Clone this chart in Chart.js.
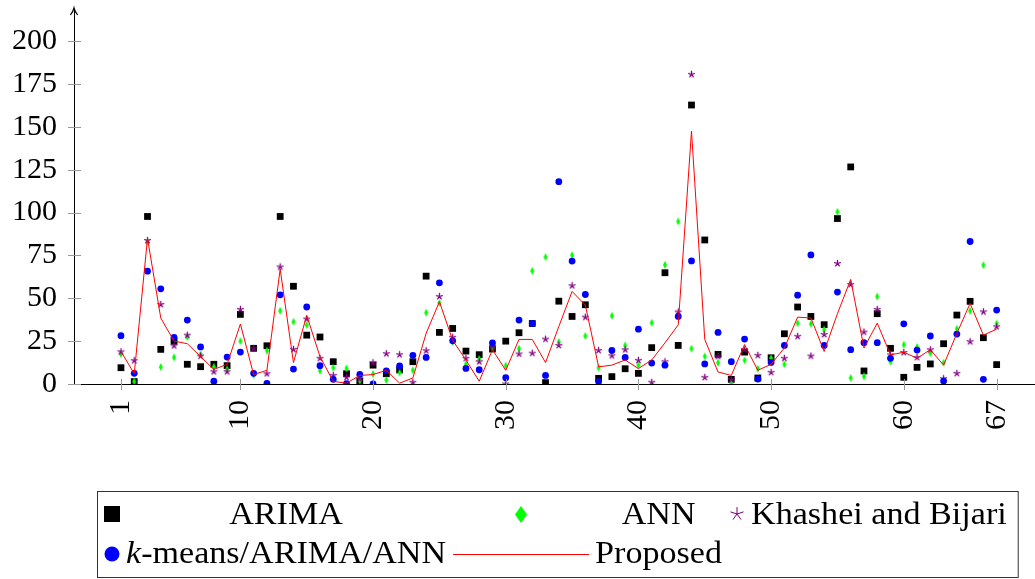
<!DOCTYPE html>
<html>
<head>
<meta charset="utf-8">
<script src="https://cdn.jsdelivr.net/npm/chart.js@4.4.1/dist/chart.umd.min.js"></script>
<style>
    html, body { margin: 0; padding: 0; background: #fff; }
    #wrap { width: 1035px; height: 579px; position: relative; }
</style>
</head>
<body>
<div id="wrap"><canvas id="forecastChart"></canvas></div>
<script>
// Forecast values per test point (1..67) for each model
const arimaForecast = [9.5, 1.4, 97.7, 20.2, 24.9, 11.5, 10.1, 11.5, 10.7, 40.6, 20.8, 22.3, 97.7, 57, 28.5, 27.4, 13, 6, 1.6, 11, 6, 8.2, 13, 62.9, 30.1, 32.4, 19.2, 17.1, 20.4, 25, 29.9, 35.3, 0.8, 48.3, 39.4, 46.2, 3.3, 4.3, 8.9, 6.2, 21.2, 64.9, 22.5, 162.7, 84, 17.3, 2.7, 18.6, 3.5, 15.3, 29.3, 44.9, 39.4, 34.6, 96.5, 126.6, 7.6, 41, 20.8, 3.9, 9.7, 11.7, 23.5, 40.2, 48.2, 27, 11.3];
const annForecast = [17.5, 1.4, 82.7, 9.9, 15.5, 27.4, 17.3, 10, 8.5, 25, 5.2, 19.4, 42.7, 36.3, 34.4, 7.8, 9.5, 9.1, 1.9, 5.8, 2.3, 6.6, 8, 41.6, 47.2, 24.5, 11.5, 14.6, 21.4, 10.7, 20.6, 66, 74, 24.5, 75.1, 28, 9.5, 39.8, 22.5, 10.9, 35.7, 69.5, 94.8, 20.6, 16.1, 12.4, 0.6, 13.8, 8.9, 15, 11.5, 35.5, 35.1, 31.7, 100.4, 3.5, 4.5, 51, 13, 22.9, 21.6, 18, 12.4, 32.2, 42.7, 69.3, 35.3];
const khasheiBijariForecast = [18.8, 13.6, 83.7, 46.4, 22.3, 28.5, 16.3, 7.2, 7.2, 43.5, 20.8, 6, 68.3, 20.2, 37.9, 15, 5, 3.9, 3, 12.4, 17.7, 17.1, 1, 19.4, 51, 27.2, 15, 13, 21.7, 0, 17.5, 18, 26.2, 22.5, 57.3, 39, 19.6, 16.5, 20, 13.8, 1, 13, 42, 180.6, 3.9, 16.1, 2.5, 20, 16.7, 6.8, 15, 27.8, 16.3, 28.9, 70.3, 58, 30.3, 43.5, 17, 18.4, 15.5, 20, 3.1, 6.2, 24.7, 42.1, 33.4];
const kMeansHybridForecast = [28.2, 6.2, 65.8, 55.5, 27.2, 37.3, 21.6, 1.6, 15.7, 18.6, 6.2, 0.4, 52, 8.7, 44.9, 10.7, 2.7, 0.2, 5.6, 0, 7.6, 10.5, 16.7, 15.5, 59, 25.2, 9.1, 8.3, 23.9, 3.7, 37.3, 35.3, 5, 118, 71.7, 52.2, 1.4, 19.6, 15.5, 32, 12.2, 11, 39.4, 71.8, 11.7, 30.1, 13, 26.2, 2.9, 12.6, 22.5, 51.8, 75.3, 22.5, 53.6, 20, 24.1, 24.1, 15, 35.1, 19.8, 28, 1.7, 29.1, 83.1, 2.7, 43.1];
const proposedForecast = [19, 6, 85, 38.5, 25, 23.5, 16, 8.5, 11.5, 35, 5.5, 8, 67, 12.5, 40, 16, 1.5, 0.5, 5, 5.5, 8, 0.5, 3.5, 29.5, 48, 25.5, 14, 1.6, 20, 8, 26, 26, 12.5, 33.5, 54, 46, 10, 11, 14, 9, 14, 24, 34.5, 147.5, 26, 7, 5, 23, 8, 11.5, 21, 39, 38.5, 19, 41, 61, 21, 35.5, 17, 18.5, 15, 20, 11, 29.5, 47, 28.5, 32];

const xTickValues = [1, 10, 20, 30, 40, 50, 60, 67];
const yTickValues = [0, 25, 50, 75, 100, 125, 150, 175, 200];

const SERIF = "'Liberation Serif', 'Times New Roman', serif";
const TEXT_STRETCH = 1.1;

function toPoints(values) {
    return values.map((v, i) => ({ x: i + 1, y: v }));
}

// tall narrow diamond like the pgfplots diamond* mark
function diamondMark(w, h, color) {
    const c = document.createElement('canvas');
    c.width = w + 2;
    c.height = h + 2;
    const g = c.getContext('2d');
    g.fillStyle = color;
    g.beginPath();
    g.moveTo(c.width / 2, 1);
    g.lineTo(c.width - 1, c.height / 2);
    g.lineTo(c.width / 2, c.height - 1);
    g.lineTo(1, c.height / 2);
    g.closePath();
    g.fill();
    return c;
}

// five-armed asterisk
function starMark(r, color, lw) {
    const size = Math.ceil(r * 2 + 3);
    const c = document.createElement('canvas');
    c.width = size;
    c.height = size;
    const g = c.getContext('2d');
    g.strokeStyle = color;
    g.lineWidth = lw;
    g.lineCap = 'round';
    g.beginPath();
    for (let k = 0; k < 5; k++) {
        const a = -Math.PI / 2 + k * 2 * Math.PI / 5;
        g.moveTo(size / 2, size / 2);
        g.lineTo(size / 2 + r * Math.cos(a), size / 2 + r * Math.sin(a));
    }
    g.stroke();
    return c;
}

const GREEN = '#00ff00';
const PURPLE = '#800080';

const datasets = [
    {
        label: 'ARIMA',
        data: toPoints(arimaForecast),
        pointStyle: 'rect',
        pointRadius: 4.8,
        backgroundColor: '#000',
        borderColor: '#000',
        borderWidth: 0,
        order: 5,
        legendMark: { kind: 'rect', size: 16 }
    },
    {
        label: 'ANN',
        data: toPoints(annForecast),
        pointStyle: diamondMark(4, 8, GREEN),
        backgroundColor: GREEN,
        borderColor: GREEN,
        order: 4,
        legendMark: { kind: 'image', image: diamondMark(12, 17, GREEN) }
    },
    {
        label: 'Khashei and Bijari',
        data: toPoints(khasheiBijariForecast),
        pointStyle: starMark(3, PURPLE, 1.3),
        backgroundColor: PURPLE,
        borderColor: PURPLE,
        order: 3,
        legendMark: { kind: 'image', image: starMark(6.5, PURPLE, 1) }
    },
    {
        label: 'k-means/ARIMA/ANN',
        italicPrefix: 'k',
        data: toPoints(kMeansHybridForecast),
        pointStyle: 'circle',
        pointRadius: 3.4,
        backgroundColor: '#0000ff',
        borderColor: '#0000ff',
        borderWidth: 0,
        order: 2,
        legendMark: { kind: 'circle', size: 15 }
    },
    {
        label: 'Proposed',
        data: toPoints(proposedForecast),
        showLine: true,
        tension: 0,
        borderColor: '#ff0000',
        borderWidth: 1,
        pointRadius: 0,
        order: 1,
        legendMark: { kind: 'line', width: 136 }
    }
];

// tick marks crossing the axes and the arrow tip on the y axis
const axisDecor = {
    id: 'axisDecor',
    afterDraw(chart) {
        const { ctx, chartArea, scales } = chart;
        ctx.save();
        ctx.strokeStyle = '#999';
        ctx.lineWidth = 1;
        ctx.beginPath();
        xTickValues.forEach(v => {
            const px = Math.round(scales.x.getPixelForValue(v)) + 0.5;
            ctx.moveTo(px, chartArea.bottom - 5);
            ctx.lineTo(px, chartArea.bottom + 6);
        });
        yTickValues.forEach(v => {
            const py = Math.round(scales.y.getPixelForValue(v)) + 0.5;
            ctx.moveTo(chartArea.left - 6, py);
            ctx.lineTo(chartArea.left + 7, py);
        });
        ctx.stroke();

        ctx.strokeStyle = '#000';
        ctx.lineWidth = 1.2;
        const ax = chartArea.left;
        const top = chartArea.top;
        ctx.beginPath();
        ctx.moveTo(ax - 3.6, top + 6);
        ctx.quadraticCurveTo(ax - 0.8, top + 2.5, ax, top - 1);
        ctx.quadraticCurveTo(ax + 0.8, top + 2.5, ax + 3.6, top + 6);
        ctx.stroke();
        ctx.restore();
    }
};

function drawStretched(ctx, text, x, y, font) {
    ctx.save();
    ctx.font = font;
    ctx.translate(x, y);
    ctx.scale(TEXT_STRETCH, 1);
    ctx.fillText(text, 0, 0);
    ctx.restore();
}

function labelWidth(ctx, ds, font, italicFont) {
    if (ds.italicPrefix) {
        ctx.font = italicFont;
        const a = ctx.measureText(ds.italicPrefix).width;
        ctx.font = font;
        const b = ctx.measureText(ds.label.slice(ds.italicPrefix.length)).width;
        return (a + b) * TEXT_STRETCH;
    }
    ctx.font = font;
    return ctx.measureText(ds.label).width * TEXT_STRETCH;
}

// three-column legend box below the axis, filled row by row
const columnLegend = {
    id: 'columnLegend',
    afterDraw(chart, args, opts) {
        const { ctx } = chart;
        const font = '31px ' + SERIF;
        const italicFont = 'italic 31px ' + SERIF;
        const cols = opts.columns;
        const items = chart.data.datasets;

        const imgW = new Array(cols).fill(0);
        const txtW = new Array(cols).fill(0);
        items.forEach((ds, i) => {
            const c = i % cols;
            const m = ds.legendMark;
            const w = m.kind === 'line' ? m.width : 16;
            imgW[c] = Math.max(imgW[c], w);
            txtW[c] = Math.max(txtW[c], labelWidth(ctx, ds, font, italicFont));
        });

        const colX = [];
        let x = opts.left + opts.padX;
        for (let c = 0; c < cols; c++) {
            colX.push(x);
            x += imgW[c] + opts.imageGap + txtW[c] + opts.colGap;
        }
        const right = x - opts.colGap + opts.padX + 4;

        ctx.save();
        ctx.strokeStyle = '#333';
        ctx.lineWidth = 1;
        ctx.strokeRect(opts.left + 0.5, opts.top + 0.5, right - opts.left, opts.bottom - opts.top);

        ctx.fillStyle = '#000';
        ctx.textBaseline = 'alphabetic';
        ctx.textAlign = 'left';
        items.forEach((ds, i) => {
            const c = i % cols;
            const r = Math.floor(i / cols);
            const cy = opts.rowCenters[r];
            const base = opts.rowBaselines[r];
            const m = ds.legendMark;
            const icx = colX[c] + imgW[c] / 2;

            if (m.kind === 'rect') {
                ctx.fillStyle = ds.backgroundColor;
                ctx.fillRect(icx - m.size / 2, cy - m.size / 2, m.size, m.size);
            } else if (m.kind === 'circle') {
                ctx.fillStyle = ds.backgroundColor;
                ctx.beginPath();
                ctx.arc(icx, cy, m.size / 2, 0, Math.PI * 2);
                ctx.fill();
            } else if (m.kind === 'line') {
                ctx.strokeStyle = ds.borderColor;
                ctx.lineWidth = ds.borderWidth;
                ctx.beginPath();
                ctx.moveTo(colX[c], cy + 0.5);
                ctx.lineTo(colX[c] + m.width, cy + 0.5);
                ctx.stroke();
            } else {
                ctx.drawImage(m.image, Math.round(icx - m.image.width / 2), Math.round(cy - m.image.height / 2));
            }

            ctx.fillStyle = '#000';
            const w = labelWidth(ctx, ds, font, italicFont);
            let tx = colX[c] + imgW[c] + opts.imageGap + (txtW[c] - w) / 2;
            if (ds.italicPrefix) {
                drawStretched(ctx, ds.italicPrefix, tx, base, italicFont);
                ctx.font = italicFont;
                tx += ctx.measureText(ds.italicPrefix).width * TEXT_STRETCH;
                drawStretched(ctx, ds.label.slice(ds.italicPrefix.length), tx, base, font);
            } else {
                drawStretched(ctx, ds.label, tx, base, font);
            }
        });
        ctx.restore();
    }
};

const ctx = document.getElementById('forecastChart').getContext('2d');
const forecastChart = new Chart(ctx, {
    type: 'scatter',
    data: { datasets },
    options: {
        responsive: true,
        maintainAspectRatio: false,
        animation: false,
        devicePixelRatio: 1,
        layout: { autoPadding: false, padding: { left: 0, right: 0, top: 9, bottom: 0 } },
        plugins: {
            legend: { display: false },
            tooltip: { enabled: false },
            columnLegend: {
                columns: 3,
                left: 97,
                top: 491,
                bottom: 577,
                padX: 7,
                imageGap: 6,
                colGap: 7,
                rowCenters: [514, 554],
                rowBaselines: [524, 563]
            }
        },
        scales: {
            x: {
                type: 'linear',
                min: -2.54,
                max: 69.89,
                grid: { display: false, drawTicks: false },
                border: { display: true, color: '#000', width: 1 },
                afterBuildTicks: scale => {
                    scale.ticks = xTickValues.map(v => ({ value: v }));
                },
                afterFit: scale => {
                    scale.height = 195;
                    scale.paddingLeft = 0;
                    scale.paddingRight = 0;
                },
                ticks: {
                    autoSkip: false,
                    minRotation: 90,
                    maxRotation: 90,
                    padding: 16,
                    color: '#000',
                    font: { family: SERIF, size: 30 }
                }
            },
            y: {
                type: 'linear',
                min: 0,
                max: 218.7,
                grid: { display: false, drawTicks: false },
                border: { display: true, color: '#000', width: 1 },
                afterBuildTicks: scale => {
                    scale.ticks = yTickValues.map(v => ({ value: v }));
                },
                afterFit: scale => {
                    scale.width = 74;
                    scale.paddingTop = 0;
                    scale.paddingBottom = 0;
                },
                ticks: {
                    padding: 17,
                    color: '#000',
                    font: { family: SERIF, size: 30 }
                }
            }
        }
    },
    plugins: [axisDecor, columnLegend]
});
</script>
</body>
</html>
